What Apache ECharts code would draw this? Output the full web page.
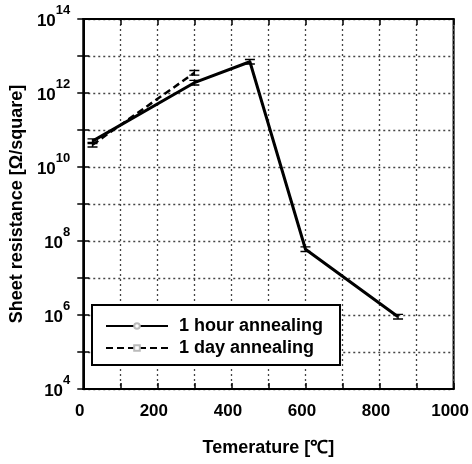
<!DOCTYPE html>
<html>
<head>
<meta charset="UTF-8">
<script src="https://cdn.jsdelivr.net/npm/echarts@6/dist/echarts.min.js"></script>
<style>
    html, body {margin: 0; padding: 0; background: #fff;}
    #chart {width: 472px; height: 464px;}
</style>
</head>
<body>
<div id="chart"></div>
<script>
    // temperature (C) and sheet resistance (ohm/sq)
    var temp1h = [25, 300, 450, 600, 850];
    var res1h = [5.0e10, 1.9e12, 7.0e12, 6.0e7, 9.0e5];
    var temp1d = [25, 300];
    var res1d = [4.0e10, 3.5e12];
    // labelled decades on the y axis
    var yLabelExp = [4, 6, 8, 10, 12, 14];
    var xLabels = [0, 200, 400, 600, 800, 1000];

    var errBar = 'path://M0,0h10v1.4h-10z M4.3,0h1.4v6h-1.4z M0,4.6h10v1.4h-10z';
    var font = 'Liberation Sans';

    function pts(xs, ys) {
        var out = [];
        for (var i = 0; i < xs.length; i++) {
            out.push({
                value: [xs[i], Math.log10(ys[i])],
                symbol: errBar, symbolSize: [10, 6],
                itemStyle: {color: '#000', borderWidth: 0}
            });
        }
        return out;
    }

    var grid = {type: [2, 3], color: '#444', width: 1.3};
    var tick = {inside: true, length: 6, lineStyle: {color: '#000', width: 1.5}};

    var chart = echarts.init(document.getElementById('chart'));
    chart.setOption({
        animation: false,
        grid: {left: 83, top: 19, width: 371, height: 370, show: true,
            borderColor: '#000', borderWidth: 2, backgroundColor: 'transparent'},
        legend: {
            orient: 'vertical', left: 92, top: 305,
            backgroundColor: '#fff', borderColor: '#000', borderWidth: 2, borderRadius: 0,
            padding: [12, 17, 8, 13], itemWidth: 62, itemHeight: 7, itemGap: 4,
            textStyle: {fontFamily: font, fontWeight: 'bold', fontSize: 18, color: '#000', padding: [0, 0, 0, 6]},
            data: ['1 hour annealing', '1 day annealing']
        },
        xAxis: [{
            type: 'value', min: 0, max: 1000, interval: 100,
            name: 'Temerature [℃]', nameLocation: 'middle', nameGap: 50,
            nameTextStyle: {fontFamily: font, fontWeight: 'bold', fontSize: 18, color: '#000'},
            axisLine: {lineStyle: {color: '#000', width: 2}},
            axisTick: tick,
            splitLine: {show: true, lineStyle: grid},
            axisLabel: {
                margin: 14, padding: [0, 7, 0, 0],
                fontFamily: font, fontWeight: 'bold', fontSize: 17, color: '#000',
                formatter: function (v) { return xLabels.indexOf(v) >= 0 ? String(v) : ''; }
            }
        }, {
            type: 'value', position: 'top', min: 0, max: 1000, interval: 100,
            axisLine: {lineStyle: {color: '#000', width: 2}},
            axisTick: tick, axisLabel: {show: false}, splitLine: {show: false}
        }],
        yAxis: [{
            type: 'value', min: 4, max: 14, interval: 1,
            name: 'Sheet resistance [Ω/square]', nameLocation: 'middle', nameGap: 57,
            nameTextStyle: {fontFamily: font, fontWeight: 'bold', fontSize: 18, color: '#000'},
            axisLine: {lineStyle: {color: '#000', width: 2}},
            axisTick: tick,
            splitLine: {show: true, lineStyle: grid},
            axisLabel: {
                margin: 13,
                formatter: function (v) {
                    return yLabelExp.indexOf(v) >= 0 ? '{b|10}{s|' + v + '}' : '';
                },
                rich: {
                    b: {fontFamily: font, fontWeight: 'bold', fontSize: 17, lineHeight: 17, color: '#000',
                        padding: [4, 0, 0, 0]},
                    s: {fontFamily: font, fontWeight: 'bold', fontSize: 13, lineHeight: 13, color: '#000',
                        padding: [0, 0, 18, 0]}
                }
            }
        }, {
            type: 'value', position: 'right', min: 4, max: 14, interval: 1,
            axisLine: {lineStyle: {color: '#000', width: 2}},
            axisTick: tick, axisLabel: {show: false}, splitLine: {show: false}
        }],
        series: [{
            name: '1 hour annealing', type: 'line',
            symbol: 'emptyCircle', symbolSize: 5, showAllSymbol: true,
            itemStyle: {color: '#bbb', borderColor: '#bbb'},
            lineStyle: {color: '#000', width: 3, type: 'solid'},
            data: pts(temp1h, res1h), z: 3
        }, {
            name: '1 day annealing', type: 'line',
            symbol: 'emptyRect', symbolSize: 5, showAllSymbol: true,
            itemStyle: {color: '#bbb', borderColor: '#bbb'},
            lineStyle: {color: '#000', width: 2.5, type: [7, 4]},
            data: pts(temp1d, res1d), z: 2
        }]
    });
</script>
</body>
</html>
